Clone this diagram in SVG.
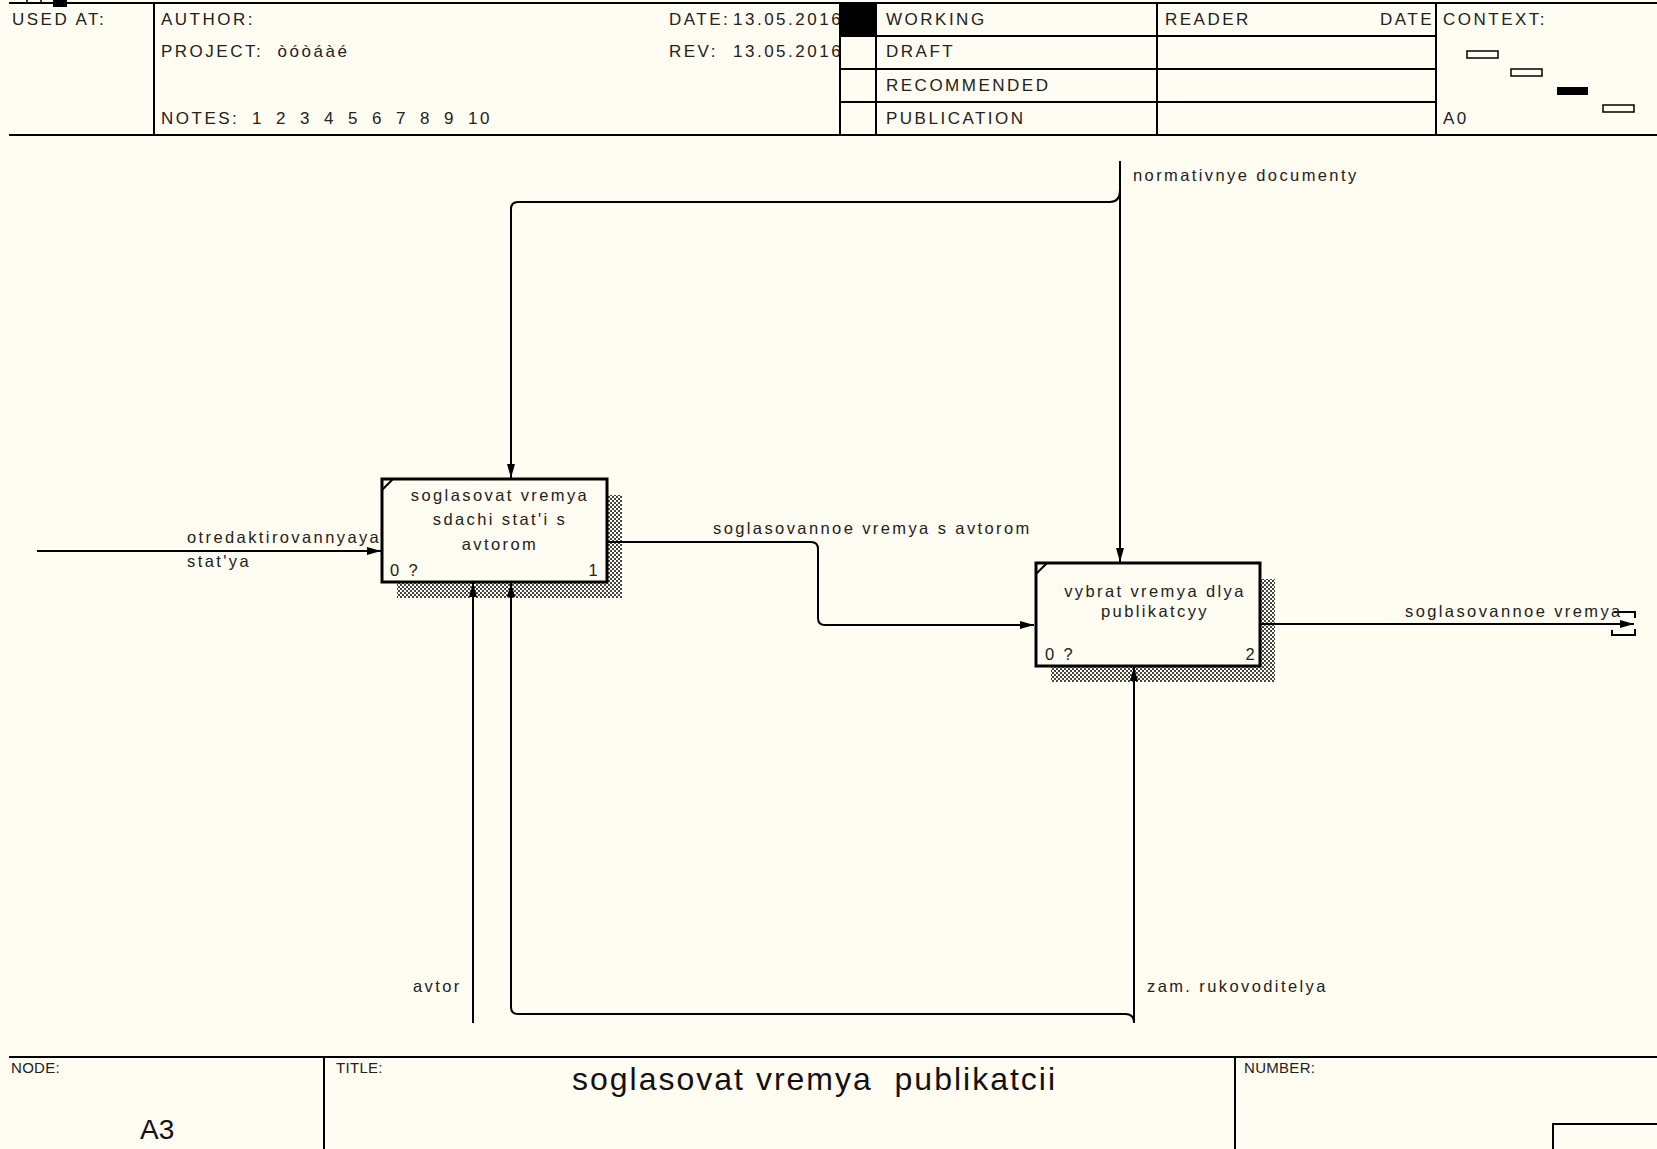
<svg xmlns="http://www.w3.org/2000/svg" width="1657" height="1149" viewBox="0 0 1657 1149">
<defs>
<pattern id="hatch" width="4" height="4" patternUnits="userSpaceOnUse">
<rect width="4" height="4" fill="#fffcf1"/>
<path d="M0,0h2v2h-2z M2,2h2v2h-2z" fill="#444"/>
</pattern>
<marker id="arr" viewBox="0 0 14 8" refX="14" refY="4" markerWidth="14" markerHeight="8" markerUnits="userSpaceOnUse" orient="auto">
<path d="M0,0 L14,4 L0,8 z" fill="#000"/>
</marker>
</defs>
<style>
.frame{stroke:#000;stroke-width:2;fill:none}
.hdr{font-family:"Liberation Sans",Arial,sans-serif;font-size:17px;letter-spacing:2.5px;fill:#222;white-space:pre}
.sm{font-family:"Liberation Sans",Arial,sans-serif;font-size:15px;letter-spacing:0.3px;fill:#222}
.lbl{font-family:"Liberation Sans",Arial,sans-serif;font-size:16.5px;letter-spacing:2.4px;fill:#222}
.box{fill:#fffcf1;stroke:#000;stroke-width:3}
.shadow{fill:url(#hatch)}
.conn{stroke:#000;stroke-width:2;fill:none}
.tick{stroke:#000;stroke-width:2;fill:none}
</style>
<rect width="1657" height="1149" fill="#fffcf1"/>

<g id="header">
<rect x="27" y="-4" width="14" height="7" fill="none" stroke="#000" stroke-width="1.5"/>
<rect x="53" y="-4" width="14" height="11" fill="#000"/>
<line x1="9" y1="3" x2="1657" y2="3" class="frame"/>
<line x1="9" y1="135" x2="1657" y2="135" class="frame"/>
<line x1="154" y1="3" x2="154" y2="135" class="frame"/>
<text x="12" y="25" class="hdr">USED AT:</text>
<text x="161" y="25" class="hdr">AUTHOR:</text>
<text x="161" y="57" class="hdr" xml:space="preserve">PROJECT:  òóòáàé</text>
<text x="161" y="124" class="hdr">NOTES:</text>
<g class="hdr">
<text x="252" y="124">1</text><text x="276" y="124">2</text><text x="300" y="124">3</text><text x="324" y="124">4</text><text x="348" y="124">5</text><text x="372" y="124">6</text><text x="396" y="124">7</text><text x="420" y="124">8</text><text x="444" y="124">9</text><text x="468" y="124">10</text>
</g>
<text x="669" y="25" class="hdr">DATE:</text>
<text x="733" y="25" class="hdr">13.05.2016</text>
<text x="669" y="57" class="hdr">REV:</text>
<text x="733" y="57" class="hdr">13.05.2016</text>
<rect x="840" y="3" width="36" height="33" fill="#000"/>
<line x1="840" y1="3" x2="840" y2="135" class="frame"/>
<line x1="876" y1="3" x2="876" y2="135" class="frame"/>
<line x1="1157" y1="3" x2="1157" y2="135" class="frame"/>
<line x1="1436" y1="3" x2="1436" y2="135" class="frame"/>
<line x1="840" y1="36" x2="1436" y2="36" class="frame"/>
<line x1="840" y1="69" x2="1436" y2="69" class="frame"/>
<line x1="840" y1="102" x2="1436" y2="102" class="frame"/>
<text x="886" y="25" class="hdr">WORKING</text>
<text x="886" y="57" class="hdr">DRAFT</text>
<text x="886" y="91" class="hdr">RECOMMENDED</text>
<text x="886" y="124" class="hdr">PUBLICATION</text>
<text x="1165" y="25" class="hdr">READER</text>
<text x="1434" y="25" class="hdr" text-anchor="end">DATE</text>
<text x="1443" y="25" class="hdr">CONTEXT:</text>
<text x="1443" y="124" class="hdr">A0</text>
<rect x="1467" y="51" width="31" height="7" fill="none" stroke="#000" stroke-width="1.5"/>
<rect x="1511" y="69" width="31" height="7" fill="none" stroke="#000" stroke-width="1.5"/>
<rect x="1557" y="87" width="31" height="8" fill="#000"/>
<rect x="1603" y="105" width="31" height="7" fill="none" stroke="#000" stroke-width="1.5"/>
</g>

<g id="footer">
<line x1="9" y1="1057" x2="1657" y2="1057" class="frame"/>
<line x1="324" y1="1057" x2="324" y2="1149" class="frame"/>
<line x1="1235" y1="1057" x2="1235" y2="1149" class="frame"/>
<rect x="1553" y="1124" width="110" height="40" fill="none" stroke="#000" stroke-width="2"/>
<text x="11" y="1073" class="sm">NODE:</text>
<text x="336" y="1073" class="sm">TITLE:</text>
<text x="1244" y="1073" class="sm">NUMBER:</text>
<text x="140" y="1139" font-family="Liberation Sans, Arial, sans-serif" font-size="28" fill="#111">A3</text>
<text x="572" y="1090" font-family="Liberation Sans, Arial, sans-serif" font-size="32" letter-spacing="2" fill="#111" xml:space="preserve">soglasovat vremya  publikatcii</text>
</g>

<g id="node1">
<rect x="397" y="495" width="225" height="103" class="shadow"/>
<rect x="382" y="479" width="225" height="103" class="box"/>
<line x1="382" y1="490" x2="393" y2="479" class="tick"/>
<text x="500" y="501" class="lbl" text-anchor="middle">soglasovat vremya</text>
<text x="500" y="525" class="lbl" text-anchor="middle">sdachi stat'i s</text>
<text x="500" y="550" class="lbl" text-anchor="middle">avtorom</text>
<text x="390" y="576" class="lbl">0 ?</text>
<text x="600" y="576" class="lbl" text-anchor="end">1</text>
</g>

<g id="node2">
<rect x="1051" y="579" width="224" height="103" class="shadow"/>
<rect x="1036" y="563" width="224" height="103" class="box"/>
<line x1="1036" y1="574" x2="1047" y2="563" class="tick"/>
<text x="1155" y="597" class="lbl" text-anchor="middle">vybrat vremya dlya</text>
<text x="1155" y="617" class="lbl" text-anchor="middle">publikatcyy</text>
<text x="1045" y="660" class="lbl">0 ?</text>
<text x="1257" y="660" class="lbl" text-anchor="end">2</text>
</g>

<g id="connectors">
<path class="conn" d="M37,551 H381" marker-end="url(#arr)"/>
<path class="conn" d="M607,542 H811 Q818,542 818,549 V618 Q818,625 825,625 H1034" marker-end="url(#arr)"/>
<path class="conn" d="M1120,161 V562" marker-end="url(#arr)"/>
<path class="conn" d="M1120,190 Q1120,202 1110,202 H518 Q511,202 511,209 V478" marker-end="url(#arr)"/>
<path class="conn" d="M473,1023 V583" marker-end="url(#arr)"/>
<path class="conn" d="M1134,1023 V667" marker-end="url(#arr)"/>
<path class="conn" d="M1134,1023 Q1134,1014 1125,1014 H518 Q511,1014 511,1007 V583" marker-end="url(#arr)"/>
<path class="conn" d="M1260,624 H1634" marker-end="url(#arr)"/>
<path class="tick" d="M1614,612 H1635 V618 M1612,630 V635 H1635 V629"/>
<text x="187" y="543" class="lbl" letter-spacing="2.2">otredaktirovannyaya</text>
<text x="187" y="567" class="lbl">stat'ya</text>
<text x="713" y="534" class="lbl">soglasovannoe vremya s avtorom</text>
<text x="1133" y="181" class="lbl">normativnye documenty</text>
<text x="413" y="992" class="lbl">avtor</text>
<text x="1147" y="992" class="lbl">zam. rukovoditelya</text>
<text x="1405" y="617" class="lbl">soglasovannoe vremya</text>
</g>
</svg>
